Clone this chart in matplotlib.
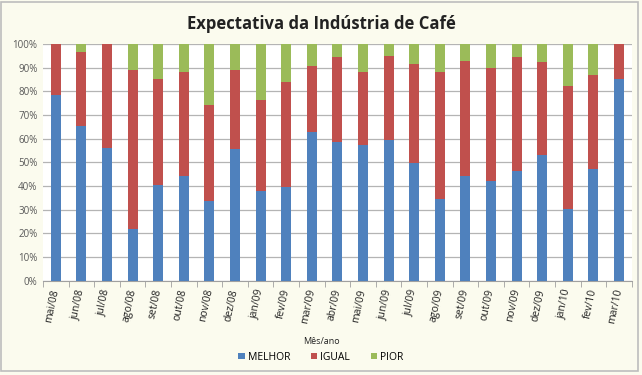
import numpy as np
import matplotlib.pyplot as plt
from matplotlib.patches import Rectangle

plt.rcParams['font.family'] = ['Open Sans', 'DejaVu Sans']

meses = ["mai/08", "jun/08", "jul/08", "ago/08", "set/08", "out/08", "nov/08", "dez/08",
         "jan/09", "fev/09", "mar/09", "abr/09", "mai/09", "jun/09", "jul/09", "ago/09",
         "set/09", "out/09", "nov/09", "dez/09", "jan/10", "fev/10", "mar/10"]
melhor = [78.5, 65.5, 56.1, 22.0, 40.5, 44.1, 33.6, 55.6, 38.0, 39.7, 62.9, 58.5,
          57.2, 59.5, 49.9, 34.5, 44.1, 42.1, 46.5, 53.2, 30.4, 47.0, 85.0]
igual = [21.5, 31.1, 43.9, 67.1, 44.5, 43.9, 40.4, 33.5, 38.3, 44.2, 27.8, 36.0,
         30.9, 35.4, 41.5, 53.6, 48.7, 47.6, 48.0, 39.2, 51.8, 39.9, 15.0]
pior = [0.0, 3.4, 0.0, 10.9, 15.0, 12.0, 26.0, 10.9, 23.7, 16.1, 9.3, 5.5,
        11.9, 5.1, 8.6, 11.9, 7.2, 10.3, 5.5, 7.6, 17.8, 13.1, 0.0]

azul, vermelho, verde = "#4F81BD", "#C0504D", "#9BBB59"

fig = plt.figure(figsize=(6.42, 3.75), dpi=100, facecolor="#fbfbee")
ax = fig.add_axes([0.067, 0.251, 0.917, 0.632])
ax.set_facecolor("white")

x = np.arange(len(meses))
w = 0.39
melhor = np.array(melhor)
igual = np.array(igual)
pior = np.array(pior)
ax.bar(x, melhor, w, color=azul, label="MELHOR", zorder=3)
ax.bar(x, igual, w, bottom=melhor, color=vermelho, label="IGUAL", zorder=3)
ax.bar(x, pior, w, bottom=melhor + igual, color=verde, label="PIOR", zorder=3)

ax.set_xlim(-0.5, len(meses) - 0.5)
ax.set_ylim(0, 100)
ax.set_yticks(np.arange(0, 101, 10))
ax.set_yticklabels([f"{v}%" for v in range(0, 101, 10)], fontsize=7, color="#595959")
ax.yaxis.grid(True, color="#b4b4b4", linewidth=0.9, zorder=0)
ax.tick_params(axis="y", length=0, pad=4)

ax.set_xticks(x)
ax.set_xticklabels(meses, rotation=78, fontsize=7.5, color="#222222",
                   ha="right", va="center", rotation_mode="anchor")
ax.tick_params(axis="x", length=0, pad=6)
ax.set_xticks(np.arange(-0.5, len(meses), 1), minor=True)
ax.tick_params(axis="x", which="minor", length=4, color="#a0a0a0")

for s in ["top", "right", "left"]:
    ax.spines[s].set_visible(False)
ax.spines["bottom"].set_color("#a0a0a0")

fig.text(0.5, 0.935, "Expectativa da Indústria de Café", ha="center", va="center",
         fontsize=12, fontweight="bold", color="#222222")
fig.text(0.5, 0.09, "Mês/ano", ha="center", va="center", fontsize=6.5, color="#222222")

ax.legend(loc="center", bbox_to_anchor=(0.5, 0.048), bbox_transform=fig.transFigure,
          ncol=3, frameon=False, fontsize=7.5, handlelength=0.6, handleheight=0.6,
          handletextpad=0.3, columnspacing=2.0)

fig.patches.append(Rectangle((0.002, 0.012), 0.992, 0.984, transform=fig.transFigure,
                             fill=False, edgecolor="#bdbdbd", linewidth=1.2))

fig.savefig("out.png", dpi=100, facecolor=fig.get_facecolor())
